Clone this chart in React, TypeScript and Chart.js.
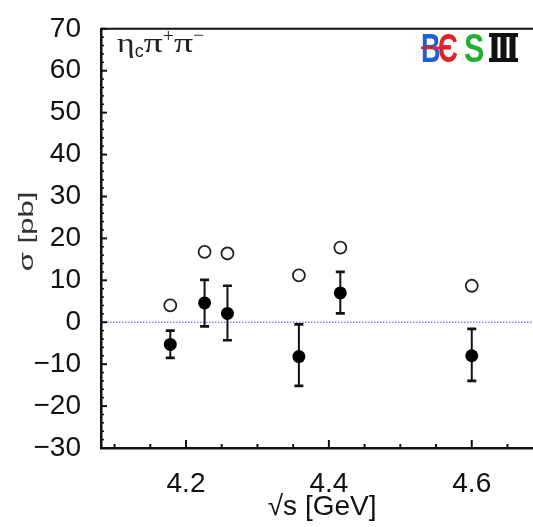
import { useEffect, useRef } from "react";
import { Chart, registerables } from "chart.js";

Chart.register(...registerables);

// ---- data ----
const energies = [4.178, 4.226, 4.258, 4.358, 4.416, 4.6];
const sigma = [-5.3, 4.6, 2.1, -8.2, 7.0, -8.0];
const errPlus = [3.3, 5.5, 6.6, 7.7, 5.0, 6.4];
const errMinus = [3.2, 5.6, 6.4, 7.0, 4.9, 6.0];
const upperLimits = [4.0, 16.8, 16.4, 11.2, 17.8, 8.7];

const xMajorTicks = [4.2, 4.4, 4.6];
const xMinorTicks = [4.1, 4.15, 4.25, 4.3, 4.35, 4.45, 4.5, 4.55, 4.65];
const yMajorTicks = [-30, -20, -10, 0, 10, 20, 30, 40, 50, 60, 70];
const yMinorStep = 2;

const X_MIN = 4.081;
const X_MAX = 4.7;
const Y_MIN = -30;
const Y_MAX = 70;

const yTitle = "\u03c3 [pb]";
const xTitle = "\u221As [GeV]";

const fmt = (v: number) => String(v).replace("-", "\u2212");
const SANS = '"Liberation Sans", Arial, Helvetica, sans-serif';
const PLOT_RIGHT = 549;

const decorPlugin = {
  id: "decor",
  beforeDatasetsDraw(chart: any) {
    const { ctx, chartArea, scales } = chart;
    const x = scales.x;
    const y = scales.y;
    ctx.save();
    // dotted zero line
    const y0 = y.getPixelForValue(0);
    ctx.strokeStyle = "#8585e6";
    ctx.lineWidth = 1.5;
    ctx.setLineDash([1.5, 1.5]);
    ctx.beginPath();
    ctx.moveTo(chartArea.left, y0);
    ctx.lineTo(chartArea.right, y0);
    ctx.stroke();
    ctx.setLineDash([]);
    // error bars
    ctx.strokeStyle = "#111";
    energies.forEach((e, i) => {
      const px = x.getPixelForValue(e);
      const top = y.getPixelForValue(sigma[i] + errPlus[i]);
      const bot = y.getPixelForValue(sigma[i] - errMinus[i]);
      ctx.lineWidth = 2;
      ctx.beginPath();
      ctx.moveTo(px, top);
      ctx.lineTo(px, bot);
      ctx.stroke();
      ctx.lineWidth = 2.7;
      ctx.beginPath();
      ctx.moveTo(px - 4.5, top);
      ctx.lineTo(px + 4.5, top);
      ctx.moveTo(px - 4.5, bot);
      ctx.lineTo(px + 4.5, bot);
      ctx.stroke();
    });
    ctx.restore();
  },
  afterDraw(chart: any) {
    const { ctx, chartArea, scales } = chart;
    const x = scales.x;
    const y = scales.y;
    ctx.save();
    ctx.strokeStyle = "#111";
    // top frame
    ctx.lineWidth = 2;
    ctx.beginPath();
    ctx.moveTo(chartArea.left, chartArea.top);
    ctx.lineTo(chartArea.right, chartArea.top);
    ctx.stroke();
    // inward ticks, x
    const b = chartArea.bottom;
    ctx.lineWidth = 2;
    xMajorTicks.forEach((v) => {
      const px = x.getPixelForValue(v);
      ctx.beginPath();
      ctx.moveTo(px, b);
      ctx.lineTo(px, b - 8);
      ctx.stroke();
    });
    xMinorTicks.forEach((v) => {
      const px = x.getPixelForValue(v);
      ctx.beginPath();
      ctx.moveTo(px, b);
      ctx.lineTo(px, b - 4);
      ctx.stroke();
    });
    // inward ticks, y
    const l = chartArea.left;
    for (let v = Y_MIN; v <= Y_MAX; v += yMinorStep) {
      const py = y.getPixelForValue(v);
      const major = yMajorTicks.includes(v);
      ctx.lineWidth = major ? 2 : 1.5;
      ctx.beginPath();
      ctx.moveTo(l, py);
      ctx.lineTo(l + (major ? 6 : 3), py);
      ctx.stroke();
    }
    // y axis title (rotated)
    ctx.save();
    ctx.fillStyle = "#333";
    ctx.font = `20px ${SANS}`;
    ctx.textAlign = "center";
    ctx.textBaseline = "middle";
    ctx.translate(27, (chartArea.top + chartArea.bottom) / 2 - 7);
    ctx.rotate(-Math.PI / 2);
    ctx.scale(1.55, 1);
    ctx.fillText(yTitle, 0, 0);
    ctx.restore();
    // process label
    ctx.fillStyle = "#222";
    ctx.textBaseline = "alphabetic";
    let cx = 117;
    const seg = (t: string, font: string, sx: number, base: number) => {
      ctx.save();
      ctx.font = font;
      ctx.translate(cx, base);
      ctx.scale(sx, 1);
      ctx.fillText(t, 0, 0);
      const w = ctx.measureText(t).width * sx;
      ctx.restore();
      cx += w;
    };
    const greek = '27px "Liberation Serif", serif';
    seg("\u03b7", greek, 1.25, 52);
    seg("c", `18px ${SANS}`, 1.0, 57);
    seg("\u03c0", greek, 1.4, 52);
    seg("+", '18px "Liberation Serif", serif', 1.1, 42);
    seg("\u03c0", greek, 1.4, 52);
    seg("\u2212", '18px "Liberation Serif", serif', 1.1, 41);
    // BESIII logo
    const logoTop = 33;
    const logoBase = 62;
    const letter = (t: string, color: string, lx: number, sx: number) => {
      ctx.save();
      ctx.font = `bold 40px ${SANS}`;
      ctx.fillStyle = color;
      ctx.translate(lx, logoBase);
      ctx.scale(sx, 1);
      ctx.fillText(t, 0, 0);
      ctx.restore();
    };
    letter("B", "#1f5fd0", 421, 0.68);
    letter("\u0404", "#e0202a", 438, 0.7);
    ctx.fillStyle = "#e0202a";
    ctx.fillRect(421, 46.5, 30, 2.6);
    letter("S", "#22b030", 464, 0.76);
    ctx.fillStyle = "#111";
    ctx.fillRect(489, logoTop, 29, 4);
    ctx.fillRect(489, logoBase - 4, 29, 4);
    ctx.fillRect(491.5, logoTop, 6, logoBase - logoTop);
    ctx.fillRect(500.5, logoTop, 6, logoBase - logoTop);
    ctx.fillRect(509.5, logoTop, 6, logoBase - logoTop);
    ctx.restore();
  },
};

export default function App() {
  const ref = useRef<HTMLCanvasElement | null>(null);
  useEffect(() => {
    if (!ref.current) return;
    const chart: any = new Chart(ref.current, {
      type: "scatter",
      data: {
        datasets: [
          {
            label: "upper limit",
            data: energies.map((e, i) => ({ x: e, y: upperLimits[i] })),
            pointStyle: "circle",
            pointRadius: 6,
            pointBorderWidth: 1.8,
            pointBorderColor: "#222",
            pointBackgroundColor: "rgba(255,255,255,0)",
          },
          {
            label: "sigma",
            data: energies.map((e, i) => ({ x: e, y: sigma[i] })),
            pointStyle: "circle",
            pointRadius: 6.5,
            pointBorderWidth: 0,
            pointBorderColor: "#000",
            pointBackgroundColor: "#000",
          },
        ],
      },
      options: {
        animation: false,
        responsive: false,
        maintainAspectRatio: false,
        layout: { padding: { top: 17, left: 0, right: 2, bottom: 0 } },
        plugins: {
          legend: { display: false },
          tooltip: { enabled: false },
        },
        scales: {
          x: {
            type: "linear",
            min: X_MIN,
            max: X_MAX,
            afterBuildTicks: (s: any) => {
              s.ticks = xMajorTicks.map((v) => ({ value: v }));
            },
            afterFit: (s: any) => {
              s.height = 79;
            },
            grid: { display: false },
            border: { display: true, color: "#111", width: 2.5 },
            ticks: {
              autoSkip: false,
              maxRotation: 0,
              padding: 11,
              color: "#111",
              font: { family: SANS, size: 28 },
              callback: (v: any) => Number(v).toFixed(1),
            },
            title: {
              display: true,
              text: xTitle,
              color: "#111",
              font: { family: SANS, size: 28 },
              padding: { top: 0, bottom: 3 },
            },
          },
          y: {
            type: "linear",
            min: Y_MIN,
            max: Y_MAX,
            afterBuildTicks: (s: any) => {
              s.ticks = yMajorTicks.map((v) => ({ value: v }));
            },
            afterFit: (s: any) => {
              s.width = 101;
            },
            grid: { display: false },
            border: { display: true, color: "#111", width: 2.5 },
            ticks: {
              autoSkip: false,
              padding: 12,
              color: "#111",
              font: { family: SANS, size: 28 },
              callback: (v: any) => fmt(Number(v)),
            },
            title: { display: false, text: yTitle },
          },
        },
      },
      plugins: [decorPlugin],
    });
    // make the plot area end exactly where the reference frame does
    for (let k = 0; k < 3; k++) {
      const diff = chart.chartArea.right - PLOT_RIGHT;
      if (Math.abs(diff) < 0.5) break;
      chart.options.layout.padding.right += diff;
      chart.update();
    }
    return () => chart.destroy();
  }, []);
  return (
    <div
      style={{
        position: "absolute",
        left: 0,
        top: 0,
        width: 533,
        height: 527,
        overflow: "hidden",
        background: "#fff",
      }}
    >
      <canvas ref={ref} width={551} height={527} style={{ display: "block" }} />
    </div>
  );
}
